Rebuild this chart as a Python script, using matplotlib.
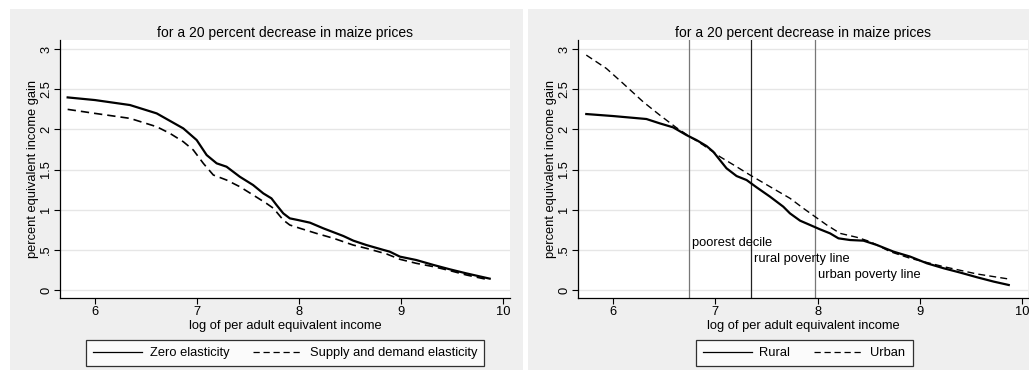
import matplotlib
matplotlib.use("Agg")
import matplotlib.pyplot as plt
from matplotlib.patches import Rectangle

plt.rcParams['font.family'] = ['Liberation Sans', 'DejaVu Sans']

title = "for a 20 percent decrease in maize prices"
xlabel = "log of per adult equivalent income"
ylabel = "percent equivalent income gain"
xticks = [6, 7, 8, 9, 10]
yticks = [0, 0.5, 1, 1.5, 2, 2.5, 3]
yticklabels = ["0", ".5", "1", "1.5", "2", "2.5", "3"]

# Left panel
zero_x = [5.732, 6.0, 6.343, 6.605, 6.866, 6.997, 7.095, 7.193, 7.29, 7.42, 7.55, 7.65, 7.73,
          7.78, 7.846, 7.91, 7.99, 8.108, 8.238, 8.435, 8.533, 8.66, 8.83, 8.89, 8.99, 9.15,
          9.32, 9.48, 9.64, 9.87]
zero_y = [2.398, 2.365, 2.303, 2.199, 2.012, 1.867, 1.68, 1.577, 1.535, 1.41, 1.307, 1.203, 1.141,
          1.058, 0.954, 0.892, 0.871, 0.838, 0.768, 0.672, 0.614, 0.56, 0.498, 0.477, 0.415, 0.373,
          0.311, 0.257, 0.207, 0.141]
sd_x = [5.732, 6.0, 6.343, 6.605, 6.735, 6.866, 6.964, 7.062, 7.16, 7.29, 7.42, 7.55, 7.68, 7.75,
        7.846, 7.91, 8.01, 8.17, 8.34, 8.53, 8.66, 8.86, 8.99, 9.15, 9.32, 9.48, 9.64, 9.87]
sd_y = [2.249, 2.199, 2.137, 2.033, 1.95, 1.846, 1.743, 1.577, 1.432, 1.369, 1.286, 1.183, 1.079, 1.017,
        0.871, 0.809, 0.768, 0.705, 0.643, 0.56, 0.519, 0.448, 0.382, 0.332, 0.29, 0.241, 0.187, 0.124]

# Right panel
rural_x = [5.739, 6.0, 6.327, 6.457, 6.588, 6.718, 6.816, 6.914, 6.98, 7.045, 7.11, 7.208, 7.306,
           7.404, 7.535, 7.665, 7.73, 7.829, 7.927, 8.024, 8.122, 8.204, 8.318, 8.449, 8.58, 8.743,
           8.906, 9.069, 9.233, 9.396, 9.559, 9.722, 9.869]
rural_y = [2.191, 2.166, 2.129, 2.075, 2.025, 1.929, 1.867, 1.793, 1.722, 1.618, 1.515, 1.419, 1.369,
           1.278, 1.162, 1.037, 0.954, 0.863, 0.809, 0.755, 0.705, 0.643, 0.622, 0.614, 0.56, 0.477,
           0.415, 0.332, 0.27, 0.216, 0.158, 0.104, 0.062]
urban_x = [5.739, 5.935, 6.098, 6.294, 6.457, 6.62, 6.751, 6.882, 7.045, 7.208, 7.339, 7.535, 7.731,
           7.861, 7.975, 8.09, 8.22, 8.384, 8.514, 8.71, 8.906, 9.233, 9.559, 9.886]
urban_y = [2.925, 2.759, 2.573, 2.344, 2.178, 2.021, 1.909, 1.805, 1.66, 1.535, 1.432, 1.286, 1.141,
           1.017, 0.913, 0.809, 0.705, 0.656, 0.602, 0.477, 0.394, 0.29, 0.199, 0.133]

vlines_x = [6.743, 7.349, 7.975]
vline_labels = ["poorest decile", "rural poverty line", "urban poverty line"]
vline_label_y = [0.585, 0.385, 0.187]

W, H = 1029, 372
FS = 9.3
fig = plt.figure(figsize=(W / 100, H / 100), dpi=100)
fig.patch.set_facecolor('white')

bg = '#efefef'
for (x0, w0) in [(10, 513), (528, 501)]:
    r = Rectangle((x0 / W, (H - 370) / H), w0 / W, 361 / H,
                  transform=fig.transFigure, facecolor=bg, edgecolor='none', zorder=-10)
    fig.add_artist(r)

axL = fig.add_axes([60 / W, (H - 298) / H, 450 / W, 258 / H])
axR = fig.add_axes([578 / W, (H - 298) / H, 450 / W, 258 / H])

def style(ax, xlim):
    ax.set_facecolor('white')
    ax.set_xlim(*xlim)
    ax.set_ylim(-0.1, 3.113)
    ax.set_xticks(xticks)
    ax.set_xticklabels([str(t) for t in xticks], fontsize=FS)
    ax.set_yticks(yticks)
    ax.set_yticklabels(yticklabels, fontsize=FS, rotation=90, va='center')
    for s in ['top', 'right']:
        ax.spines[s].set_visible(False)
    for s in ['left', 'bottom']:
        ax.spines[s].set_linewidth(0.9)
    ax.tick_params(direction='out', length=4, width=0.8, pad=1.5)
    ax.grid(axis='y', color='#e6e6e6', linewidth=1.0)
    ax.set_axisbelow(True)
    ax.set_title(title, fontsize=10, pad=2)
    ax.set_xlabel(xlabel, fontsize=FS, labelpad=1.5)
    ax.set_ylabel(ylabel, fontsize=FS, labelpad=1)

style(axL, (5.657, 10.069))
style(axR, (5.658, 10.057))

axL.plot(zero_x, zero_y, color='black', lw=1.6, label='Zero elasticity')
axL.plot(sd_x, sd_y, color='black', lw=1.2, ls=(0, (5, 3)), label='Supply and demand elasticity')

vcols = ['#777777', '#222222', '#777777']
for xv, c in zip(vlines_x, vcols):
    axR.axvline(xv, color=c, lw=0.9, zorder=1)
axR.plot(rural_x, rural_y, color='black', lw=1.6, label='Rural', zorder=3)
axR.plot(urban_x, urban_y, color='black', lw=1.0, ls=(0, (5, 3)), label='Urban', zorder=3)
for xv, lab, yv in zip(vlines_x, vline_labels, vline_label_y):
    axR.text(xv + 0.03, yv, lab, fontsize=FS, va='center', ha='left')

for ax, cx in [(axL, 285), (axR, 804)]:
    leg = ax.legend(loc='center', bbox_to_anchor=(cx / W, (H - 353) / H),
                    bbox_transform=fig.transFigure, ncol=2, frameon=True, fancybox=False,
                    fontsize=FS, handlelength=3.8, columnspacing=1.8, borderpad=0.55,
                    handletextpad=0.6, borderaxespad=0)
    leg.get_frame().set_edgecolor('black')
    leg.get_frame().set_linewidth(0.9)
    for l in leg.get_lines():
        l.set_linewidth(0.9)

fig.savefig('out.png', dpi=100, facecolor='white')
